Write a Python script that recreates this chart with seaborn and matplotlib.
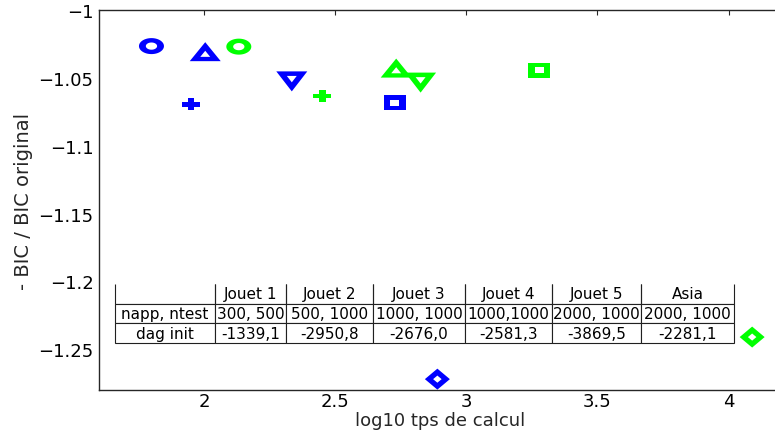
import numpy as np
import pandas as pd
import matplotlib
matplotlib.use("Agg")
import matplotlib.pyplot as plt
from matplotlib.path import Path
import seaborn as sns

# ---------------- data ----------------
datasets = ["Jouet 1", "Jouet 2", "Jouet 3", "Jouet 4", "Jouet 5", "Asia"]
blue_x = [1.800, 1.950, 2.005, 2.335, 2.728, 2.890]
blue_y = [-1.0266, -1.0695, -1.0307, -1.0526, -1.0684, -1.272]
green_x = [2.133, 2.451, 2.733, 2.826, 3.278, 4.090]
green_y = [-1.027, -1.0634, -1.0428, -1.0535, -1.0443, -1.241]

table_header = ["", "Jouet 1", "Jouet 2", "Jouet 3", "Jouet 4", "Jouet 5", "Asia"]
table_napp = ["napp, ntest", "300, 500", "500, 1000", "1000, 1000", "1000,1000",
              "2000, 1000", "2000, 1000"]
table_dag = ["dag init", "-1339,1", "-2950,8", "-2676,0", "-2581,3", "-3869,5", "-2281,1"]

x_ticks = [2, 2.5, 3, 3.5, 4]
y_ticks = [-1.25, -1.2, -1.15, -1.1, -1.05, -1]
x_label = "log10 tps de calcul"
y_label = "- BIC / BIC original"

# ---------------- marker shapes (thick outline, stretched like the reference) ----------------
def ring(outer, k, c=(0.0, 0.0)):
    outer = np.asarray(outer, float)
    c = np.asarray(c, float)
    inner = (c + k * (outer - c))[::-1]
    verts = np.vstack([outer, outer[:1], inner, inner[:1]])
    n1, n2 = len(outer), len(inner)
    codes = ([Path.MOVETO] + [Path.LINETO] * (n1 - 1) + [Path.CLOSEPOLY] +
             [Path.MOVETO] + [Path.LINETO] * (n2 - 1) + [Path.CLOSEPOLY])
    return Path(verts, codes)

def size_of(path):
    m = np.max(np.abs(path.vertices))
    return (2 * m * 0.72) ** 2

t = np.linspace(0, 2 * np.pi, 60, endpoint=False)
m_circle = ring(np.c_[12.5 * np.cos(t), 8.0 * np.sin(t)], 0.45)
m_tri_up = ring([(-15.5, -9.5), (15.5, -9.5), (0, 9.5)], 0.32, (0, -3.17))
m_tri_dn = ring([(-15.5, 10), (0, -10), (15.5, 10)], 0.32, (0, 3.33))
m_square = ring([(-11, -7.5), (11, -7.5), (11, 7.5), (-11, 7.5)], 0.40)
m_diam = ring([(0, -10.5), (12.5, 0), (0, 10.5), (-12.5, 0)], 0.34)
a, b, tx, ty = 9.0, 6.0, 3.3, 2.3
m_plus = Path(np.array([(-tx, b), (tx, b), (tx, ty), (a, ty), (a, -ty), (tx, -ty),
                        (tx, -b), (-tx, -b), (-tx, -ty), (-a, -ty), (-a, ty), (-tx, ty),
                        (-tx, b)]), closed=True)
marker_for = dict(zip(datasets, [m_circle, m_plus, m_tri_up, m_tri_dn, m_square, m_diam]))

df = pd.DataFrame({
    "x": blue_x + green_x,
    "y": blue_y + green_y,
    "dataset": datasets * 2,
    "method": ["blue"] * len(datasets) + ["green"] * len(datasets),
})
palette = {"blue": "#0000ff", "green": "#00ff00"}

# ---------------- figure ----------------
sns.set_style("white")
plt.rcParams["font.family"] = ["DejaVu Sans"]

fig = plt.figure(figsize=(7.75, 4.31), dpi=100)
W, H = 775, 431
L, R, T, B = 99, 781, 11, 391
ax = fig.add_axes([L / W, (H - B) / H, (R - L) / W, (B - T) / H])

for _, row in df.iterrows():
    mk = marker_for[row["dataset"]]
    sns.scatterplot(x=[row["x"]], y=[row["y"]], marker=mk, s=size_of(mk),
                    color=palette[row["method"]], edgecolor="none", linewidth=0,
                    ax=ax, zorder=3, legend=False)

ax.set_xlim(1.6, 4.2)
ax.set_ylim(-1.28, -1.0)
ax.set_xticks(x_ticks)
ax.set_xticklabels(["2", "2.5", "3", "3.5", "4"])
ax.set_yticks(y_ticks)
ax.set_yticklabels(["\u22121.25", "\u22121.2", "\u22121.15", "\u22121.1", "\u22121.05", "\u22121"])
ax.tick_params(direction="in", length=3.5, width=0.8, color="#262626",
               labelsize=13, pad=4, top=True, right=True, labelcolor="black")
ax.tick_params(axis="x", pad=1.5)
for s in ax.spines.values():
    s.set_visible(True)
    s.set_color("#262626")
    s.set_linewidth(1.0)

ax.set_xlabel(x_label, fontsize=13, labelpad=0.5)
ax.set_ylabel(y_label, fontsize=14, labelpad=4)

# ---------------- table ----------------
col_w = [100, 71, 87, 92, 87, 89, 93]
tab = ax.table(cellText=[table_header, table_napp, table_dag],
               colWidths=[c / sum(col_w) for c in col_w],
               cellLoc="center",
               bbox=[(115 - L) / (R - L), (B - 344) / (B - T),
                     (734 - 115) / (R - L), (344 - 285) / (B - T)])
tab.auto_set_font_size(False)
tab.set_fontsize(11)
for (r, c), cell in tab.get_celld().items():
    cell.set_linewidth(0.8)
    cell.set_edgecolor("#202020")
    cell.set_facecolor("white")
    if r == 0:
        cell.visible_edges = "BLR"
    cell.get_text().set_color("black")
tab.set_zorder(2)

fig.savefig("out.png", dpi=100)
